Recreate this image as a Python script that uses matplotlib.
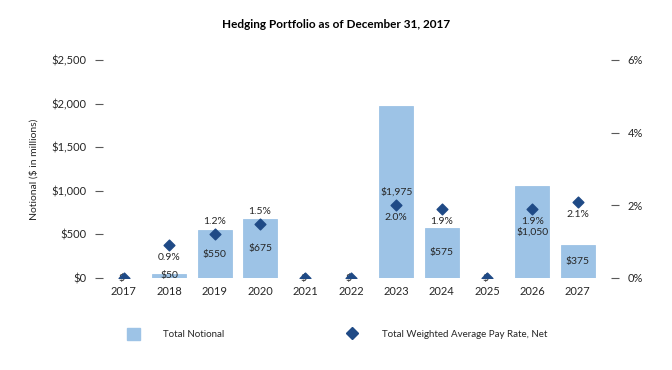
import matplotlib
matplotlib.use("Agg")
import matplotlib.pyplot as plt
import matplotlib.ticker as mticker
from matplotlib.lines import Line2D
from matplotlib.patches import Patch

# ── Data ──────────────────────────────────────────────────────────────────────
years = ["2017", "2018", "2019", "2020", "2021", "2022",
         "2023", "2024", "2025", "2026", "2027"]
notional = [0, 50, 550, 675, 0, 0, 1975, 575, 0, 1050, 375]
pay_rate = [0.0, 0.9, 1.2, 1.5, 0.0, 0.0, 2.0, 1.9, 0.0, 1.9, 2.1]
rate_label_above = [False, False, True, True, False, False,
                    False, False, False, False, False]

# ── Colours ───────────────────────────────────────────────────────────────────
C_BAR = "#9dc3e6"
C_DIA = "#1f4a86"
TXT = "#262626"
TICK = "#595959"

plt.rcParams["font.family"] = ["Lato", "DejaVu Sans"]

fig = plt.figure(figsize=(6.72, 3.70), dpi=100)
ax = fig.add_axes([103 / 672, 1 - 278 / 370, 508 / 672, 218 / 370])
ax2 = ax.twinx()

x = list(range(len(years)))
ax.bar(x, notional, width=0.75, color=C_BAR, edgecolor=C_BAR, lw=0.6, zorder=2)
ax.set_ylim(0, 2500)
ax.set_xlim(-0.46, 10.73)
ax.set_yticks(range(0, 2501, 500))
ax.yaxis.set_major_formatter(mticker.FuncFormatter(lambda v, _: f"${v:,.0f}"))
ax.set_xticks(x)
ax.set_xticklabels(years)
ax.set_ylabel("Notional ($ in millions)", fontsize=7.5, color=TXT, labelpad=9)

ax2.scatter(x, pay_rate, marker="D", s=30, color=C_DIA, zorder=4)
ax2.set_ylim(0, 6)
ax2.set_yticks(range(0, 7, 2))
ax2.yaxis.set_major_formatter(mticker.FuncFormatter(lambda v, _: f"{v:.0f}%"))

for a in (ax, ax2):
    for s in a.spines.values():
        s.set_visible(False)
    a.tick_params(axis="y", length=6, width=0.8, color=TICK, labelsize=8,
                  labelcolor=TXT, pad=6)
ax.tick_params(axis="x", length=0, labelsize=8, labelcolor=TXT, pad=6)
ax2.set_zorder(ax.get_zorder() + 1)
ax2.patch.set_visible(False)

# bar labels (centred in bar)
for xi, v in zip(x, notional):
    lbl = f"${v:,.0f}" if v else "$-"
    ax.text(xi, v / 2, lbl, ha="center", va="center", fontsize=7.5,
            color=TXT, zorder=3)

# rate labels
for xi, r, up in zip(x, pay_rate, rate_label_above):
    if r == 0:
        continue
    ax2.annotate(f"{r:.1f}%", (xi, r), xytext=(0, 9 if up else -9),
                 textcoords="offset points", ha="center",
                 va="center", fontsize=7.5, color=TXT)

fig.text(0.5, 1 - 25 / 370, "Hedging Portfolio as of December 31, 2017",
         ha="center", va="center", fontsize=8.5, fontweight="bold", color="#000000")

handles = [Patch(facecolor=C_BAR, edgecolor=C_BAR),
           Line2D([], [], marker="D", ls="none", color=C_DIA, markersize=6)]
fig.legend(handles, ["Total Notional", "Total Weighted Average Pay Rate, Net"],
           loc="center left", bbox_to_anchor=(122 / 672, 1 - 334 / 370), ncol=2,
           frameon=False, fontsize=7, handlelength=1.4, handleheight=1.4,
           handletextpad=2.3, columnspacing=12.5, borderpad=0)
for t in fig.legends[0].get_texts():
    t.set_color(TXT)

plt.savefig("out.png", dpi=100, facecolor="white")
plt.close()
